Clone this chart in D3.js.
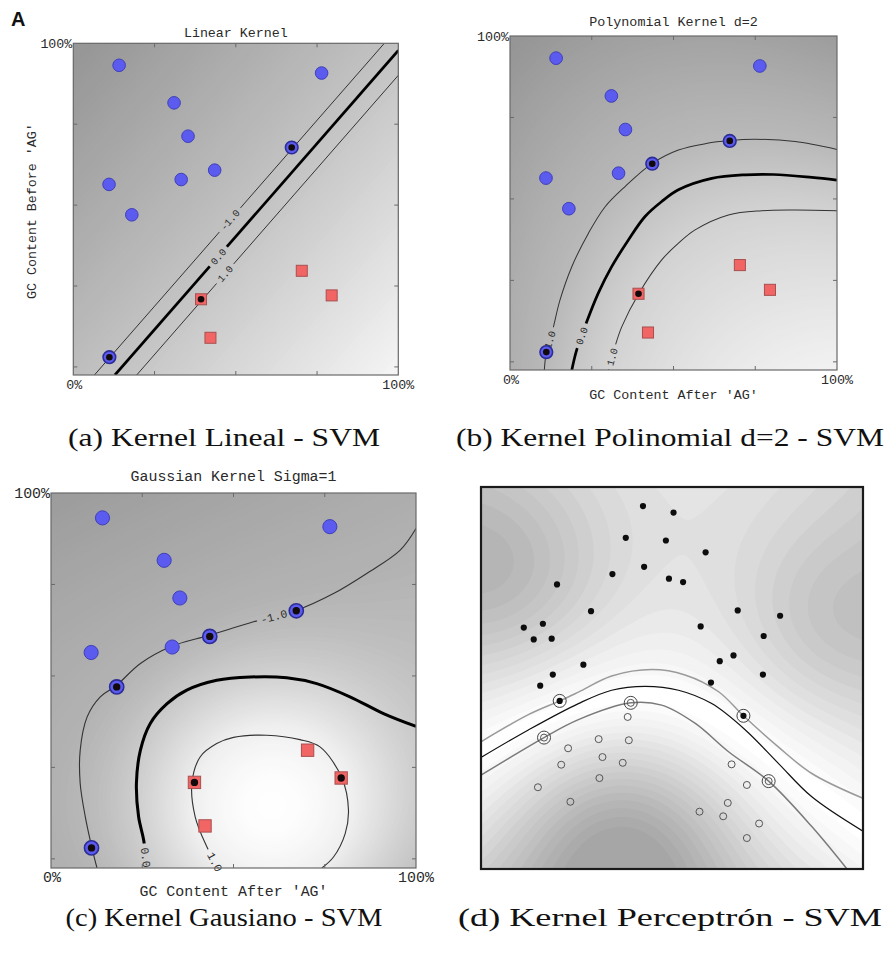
<!DOCTYPE html>
<html>
<head>
<meta charset="utf-8">
<script src="https://cdn.jsdelivr.net/npm/d3@7"></script>
<style>
  body { margin: 0; background: #fff; }
  svg { display: block; }
  .mono { font-family: "Liberation Mono", "DejaVu Sans Mono", monospace; fill: #2a2a2a; }
  .cap { font-family: "Liberation Serif", "DejaVu Serif", serif; fill: #111; }
</style>
</head>
<body>
<script>
// ---------- data (fractions of the axis range) ----------

// training set shared by panels a-c
const blueCircles = [[0.141,0.932],[0.764,0.908],[0.310,0.816],[0.353,0.713],[0.672,0.678],
                     [0.435,0.608],[0.332,0.579],[0.110,0.564],[0.180,0.470],[0.111,0.030]];
const redSquares = [[0.703,0.297],[0.795,0.221],[0.393,0.209],[0.422,0.090]];

// support vectors (indices into the arrays above)
const svBlueA = [4, 9], svRedA = [2];
const svBlueB = [4, 5, 9], svRedB = [2];
const svBlueC = [4, 5, 8, 9], svRedC = [1, 2];

// decision contours: levels -1, 0, +1
const linA_m1 = [[0.065,-0.025],[0.957,1.0]];
const linA_0  = [[0.128,-0.025],[1.0,0.978]];
const linA_p1 = [[0.195,-0.025],[1.0,0.901]];

const polyB_m1 = [[0.105,-0.025],[0.112,0.037],[0.128,0.088],[0.153,0.190],[0.189,0.292],[0.240,0.395],
                  [0.291,0.476],[0.352,0.538],[0.435,0.609],[0.515,0.650],[0.600,0.670],[0.671,0.679],
                  [0.750,0.683],[0.872,0.676],[1.0,0.652]];
const polyB_0  = [[0.189,-0.025],[0.204,0.037],[0.235,0.124],[0.270,0.211],[0.311,0.292],[0.362,0.374],
                  [0.413,0.446],[0.464,0.492],[0.515,0.528],[0.617,0.563],[0.719,0.574],[0.806,0.575],
                  [0.923,0.566],[1.0,0.558]];
const polyB_p1 = [[0.301,-0.025],[0.321,0.047],[0.342,0.108],[0.394,0.210],[0.464,0.313],[0.515,0.364],
                  [0.566,0.405],[0.668,0.451],[0.770,0.464],[0.872,0.466],[1.0,0.464]];

const gaussC_m1 = [[0.126,-0.025],[0.112,0.031],[0.094,0.115],[0.080,0.206],[0.080,0.297],[0.099,0.388],
                   [0.135,0.443],[0.177,0.472],[0.245,0.534],[0.331,0.581],[0.434,0.611],[0.555,0.648],
                   [0.672,0.679],[0.774,0.725],[0.865,0.780],[0.956,0.843],[1.0,0.903]];
const gaussC_0  = [[1.0,0.362],[0.911,0.397],[0.819,0.443],[0.728,0.479],[0.646,0.495],[0.546,0.497],
                   [0.454,0.488],[0.372,0.461],[0.318,0.424],[0.272,0.370],[0.245,0.297],[0.234,0.206],
                   [0.240,0.115],[0.254,0.051],[0.263,-0.025]];
const gaussC_p1 = [[0.742,-0.025],[0.774,0.005],[0.806,0.069],[0.815,0.133],[0.797,0.221],[0.737,0.306],
                   [0.682,0.326],[0.591,0.338],[0.500,0.332],[0.454,0.315],[0.409,0.279],[0.386,0.206],
                   [0.395,0.115],[0.427,0.033],[0.458,-0.025]];

// contour labels: [line index, approx position, text]
const labelsA = [[0,[0.482,0.454],"-1.0"],[1,[0.446,0.341],"0.0"],[2,[0.467,0.288],"1.0"]];
const labelsB = [[0,[0.115,0.060],"-1.0"],[1,[0.219,0.080],"0.0"],[2,[0.310,0.016],"1.0"]];
const labelsC = [[0,[0.610,0.665],"-1.0"],[1,[0.262,0.004],"0.0"],[2,[0.455,-0.005],"1.0"]];

// panel d: kernel perceptron
const blackDots = [[0.424,0.950],[0.504,0.933],[0.379,0.867],[0.484,0.860],[0.588,0.829],[0.427,0.791],
                   [0.344,0.772],[0.492,0.760],[0.529,0.751],[0.199,0.745],[0.288,0.675],[0.672,0.677],
                   [0.783,0.663],[0.112,0.632],[0.162,0.642],[0.575,0.635],[0.138,0.601],[0.185,0.603],
                   [0.740,0.610],[0.268,0.535],[0.661,0.559],[0.625,0.544],[0.188,0.509],[0.738,0.509],
                   [0.155,0.480],[0.602,0.488]];
const blackSV = [[0.206,0.440],[0.687,0.401]];
const openDots = [[0.384,0.398],[0.308,0.340],[0.387,0.337],[0.228,0.316],[0.318,0.293],[0.210,0.273],
                  [0.371,0.278],[0.310,0.238],[0.149,0.214],[0.234,0.176],[0.656,0.274],[0.696,0.220],
                  [0.646,0.173],[0.572,0.150],[0.634,0.138],[0.728,0.119],[0.696,0.081]];
const openSV = [[0.392,0.435],[0.165,0.344],[0.753,0.230]];

const percD_up  = [[0,0.333],[0.124,0.404],[0.206,0.440],[0.255,0.463],[0.342,0.505],[0.447,0.522],
                   [0.534,0.508],[0.622,0.464],[0.687,0.401],[0.779,0.319],[0.866,0.250],[1.0,0.185]];
const percD_mid = [[0,0.292],[0.124,0.364],[0.255,0.433],[0.342,0.468],[0.430,0.478],[0.517,0.468],
                   [0.604,0.433],[0.692,0.364],[0.779,0.276],[0.866,0.189],[1.0,0.099]];
const percD_low = [[0,0.246],[0.080,0.294],[0.165,0.344],[0.255,0.391],[0.392,0.435],[0.473,0.429],
                   [0.561,0.381],[0.648,0.307],[0.753,0.230],[0.866,0.111],[0.958,0]];
// rough |margin| values read from the grey level of panel d's background
const anchorsD = [[0.055,0.764,4.4],[0.908,0.634,3.5],[0.37,0.085,-4.8],[0.45,0.97,2.3],[0,1,3.6],
                  [1,1,2.8],[0,0,-3.2],[1,0,-1.5],[0,0.55,2.0],[1,0.45,2.4],[0.7,0.0,-3.0],[0.12,0.05,-3.6]];

const yTicks = [0, 0.25, 0.5, 0.75];
const xTicks = [0.25, 0.5, 0.75];
const captions = ["(a) Kernel Lineal - SVM", "(b) Kernel Polinomial d=2 - SVM",
                  "(c) Kernel Gausiano - SVM", "(d) Kernel Perceptrón - SVM"];

// ---------- helpers ----------
const W = 889, H = 964;
const svg = d3.select("body").append("svg").attr("width", W).attr("height", H);
const defs = svg.append("defs");

function solve(A, b) {
  const n = b.length, M = A.map((r, i) => [...r, b[i]]);
  for (let c = 0; c < n; c++) {
    let p = c;
    for (let r = c + 1; r < n; r++) if (Math.abs(M[r][c]) > Math.abs(M[p][c])) p = r;
    [M[c], M[p]] = [M[p], M[c]];
    for (let r = 0; r < n; r++) if (r !== c) {
      const f = M[r][c] / M[c][c];
      for (let k = c; k <= n; k++) M[r][k] -= f * M[c][k];
    }
  }
  return M.map((r, i) => r[n] / r[i]);
}

// least squares field through the drawn contours (levels -1, 0, 1)
function fitField(lines, levels, basis, extra) {
  const rows = [], ts = [];
  lines.forEach((pts, k) => pts.forEach(p => { rows.push(basis(p[0], p[1])); ts.push(levels[k]); }));
  (extra || []).forEach(a => { rows.push(basis(a[0], a[1])); ts.push(a[2]); });
  const m = rows[0].length;
  const A = d3.range(m).map(() => new Array(m).fill(0)), b = new Array(m).fill(0);
  rows.forEach((r, i) => {
    for (let a = 0; a < m; a++) {
      b[a] += r[a] * ts[i];
      for (let c = 0; c < m; c++) A[a][c] += r[a] * r[c];
    }
  });
  for (let a = 0; a < m; a++) A[a][a] += 1e-7;
  const w = solve(A, b);
  return (x, y) => d3.sum(basis(x, y), (v, i) => v * w[i]);
}

const gauss = (cx, cy, s) => (x, y) => Math.exp(-((x - cx) ** 2 + (y - cy) ** 2) / (2 * s * s));

function shade(g, x, y, field, color, step, clip) {
  const nx = 110, ny = 110;
  const [x0, x1] = x.domain(), [y0, y1] = y.domain();
  const vals = new Float64Array(nx * ny);
  for (let j = 0; j < ny; j++) for (let i = 0; i < nx; i++)
    vals[i + j * nx] = field(x0 + (i + 0.5) / nx * (x1 - x0), y1 - (j + 0.5) / ny * (y1 - y0));
  const lo = d3.min(vals), hi = d3.max(vals);
  const cs = d3.contours().size([nx, ny]).thresholds(d3.range(Math.ceil(lo / step) * step, hi, step))(vals);
  const w = x.range()[1] - x.range()[0], h = y.range()[0] - y.range()[1];
  const layer = g.append("g").attr("clip-path", `url(#${clip})`)
    .append("g").attr("transform", `translate(${x.range()[0]},${y.range()[1]}) scale(${w / nx},${h / ny})`);
  layer.append("rect").attr("x", -1).attr("y", -1).attr("width", nx + 2).attr("height", ny + 2).attr("fill", color(lo));
  layer.selectAll("path").data(cs).join("path")
    .attr("d", d3.geoPath()).attr("fill", d => color(d.value));
}

function nearestOnLine(pts, at) {
  let best = null;
  for (let i = 0; i < pts.length - 1; i++) {
    const [ax, ay] = pts[i], [bx, by] = pts[i + 1];
    const dx = bx - ax, dy = by - ay;
    let t = ((at[0] - ax) * dx + (at[1] - ay) * dy) / (dx * dx + dy * dy);
    t = Math.max(0, Math.min(1, t));
    const px = ax + t * dx, py = ay + t * dy, d = (px - at[0]) ** 2 + (py - at[1]) ** 2;
    if (!best || d < best.d) best = { d, x: px, y: py, ang: Math.atan2(dy, dx) * 180 / Math.PI };
  }
  return best;
}

// ---------- SVM panels a-c ----------
const svmPanels = [
  { id: "a", left: 73.3, right: 398.3, top: 43.3, bottom: 375, title: "Linear Kernel", titleY: 37,
    lines: [linA_m1, linA_0, linA_p1], labels: labelsA, svBlue: svBlueA, svRed: svRedA,
    basis: (x, y) => [1, x, y], color: d3.scaleLinear().domain([-15, 0, 13]).range(["#979797", "#c4c4c4", "#f4f4f4"]).clamp(true),
    step: 0.3, yLabel: "GC Content Before 'AG'" },
  { id: "b", left: 510, right: 837, top: 36, bottom: 370, title: "Polynomial Kernel d=2", titleY: 26,
    lines: [polyB_m1, polyB_0, polyB_p1], labels: labelsB, svBlue: svBlueB, svRed: svRedB,
    basis: (x, y) => [1, x, y, x * x, x * y, y * y],
    color: d3.scaleLinear().domain([-6, -1, 1, 6]).range(["#969696", "#b9b9b9", "#d2d2d2", "#fbfbfb"]).clamp(true),
    step: 0.08, xLabel: "GC Content After 'AG'", xLabelY: 399 },
  { id: "c", left: 51, right: 416, top: 493, bottom: 868, title: "Gaussian Kernel Sigma=1", titleY: 481,
    lines: [gaussC_m1, gaussC_0, gaussC_p1], labels: labelsC, svBlue: svBlueC, svRed: svRedC,
    basis: (x, y) => [1, x, y, x * x, x * y, y * y, gauss(0.6, 0.13, 0.25)(x, y)],
    color: d3.scaleLinear().domain([-3, -1, 0, 1, 2]).range(["#939393", "#b3b3b3", "#d2d2d2", "#efefef", "#ffffff"]).clamp(true),
    step: 0.05, xLabel: "GC Content After 'AG'", xLabelY: 896 }
];

svmPanels.forEach(p => {
  const x = d3.scaleLinear().domain([0, 1]).range([p.left, p.right]);
  const y = d3.scaleLinear().domain([-0.025, 1]).range([p.bottom, p.top]);
  const k = (p.right - p.left) / 325;
  const fs = 13.3 * k;
  const g = svg.append("g");
  const clip = "clip-" + p.id;
  defs.append("clipPath").attr("id", clip).append("rect")
    .attr("x", p.left).attr("y", p.top).attr("width", p.right - p.left).attr("height", p.bottom - p.top);

  const field = fitField(p.lines, [-1, 0, 1], p.basis);
  shade(g, x, y, field, p.color, p.step, clip);

  // contour lines, cut where the labels sit
  const toPx = d => [x(d[0]), y(d[1])];
  const lfs = 10 * k;
  const labs = p.labels.map(([li, at, text]) => ({ text, ...nearestOnLine(p.lines[li].map(toPx), toPx(at)) }));
  const maskId = "mask-" + p.id;
  const mask = defs.append("mask").attr("id", maskId).attr("maskUnits", "userSpaceOnUse")
    .attr("x", 0).attr("y", 0).attr("width", W).attr("height", H);
  mask.append("rect").attr("width", W).attr("height", H).attr("fill", "#fff");
  mask.selectAll("rect.hole").data(labs).join("rect")
    .attr("x", d => -(d.text.length * lfs * 0.6 + 8) / 2).attr("y", -lfs * 0.6)
    .attr("width", d => d.text.length * lfs * 0.6 + 8).attr("height", lfs * 1.2)
    .attr("transform", d => `translate(${d.x},${d.y}) rotate(${d.ang})`).attr("fill", "#000");

  const lineGen = d3.line().x(d => x(d[0])).y(d => y(d[1])).curve(d3.curveCatmullRom.alpha(0.5));
  g.append("g").attr("clip-path", `url(#${clip})`).append("g").attr("mask", `url(#${maskId})`)
    .selectAll("path").data(p.lines).join("path")
    .attr("d", lineGen).attr("fill", "none")
    .attr("stroke", (d, i) => i === 1 ? "#000" : "#333")
    .attr("stroke-width", (d, i) => (i === 1 ? 2.7 : 1.0) * k);

  g.selectAll("text.clab").data(labs).join("text").attr("class", "mono")
    .attr("transform", d => `translate(${d.x},${d.y}) rotate(${d.ang})`)
    .attr("text-anchor", "middle").attr("dy", "0.35em").attr("font-size", lfs).text(d => d.text);

  // frame and ticks
  g.append("rect").attr("x", p.left).attr("y", p.top).attr("width", p.right - p.left).attr("height", p.bottom - p.top)
    .attr("fill", "none").attr("stroke", "#6a6a6a").attr("stroke-width", 1.2);
  const tl = 4;
  g.selectAll("line.yt").data(yTicks.flatMap(t => [[p.left, y(t), tl], [p.right, y(t), -tl]])).join("line")
    .attr("x1", d => d[0]).attr("x2", d => d[0] + d[2]).attr("y1", d => d[1]).attr("y2", d => d[1])
    .attr("stroke", "#6a6a6a");
  g.selectAll("line.xt").data(xTicks.flatMap(t => [[x(t), p.top, tl], [x(t), p.bottom, -tl]])).join("line")
    .attr("x1", d => d[0]).attr("x2", d => d[0]).attr("y1", d => d[1]).attr("y2", d => d[1] + d[2])
    .attr("stroke", "#6a6a6a");

  // tick labels, title, axis labels
  g.append("text").attr("class", "mono").attr("x", p.left - 1).attr("y", p.top + 5)
    .attr("text-anchor", "end").attr("font-size", fs).text("100%");
  g.append("text").attr("class", "mono").attr("x", p.left + 1).attr("y", p.bottom + 14)
    .attr("text-anchor", "middle").attr("font-size", fs).text("0%");
  g.append("text").attr("class", "mono").attr("x", p.right).attr("y", p.bottom + 14)
    .attr("text-anchor", "middle").attr("font-size", fs).text("100%");
  g.append("text").attr("class", "mono").attr("x", (p.left + p.right) / 2).attr("y", p.titleY)
    .attr("text-anchor", "middle").attr("font-size", fs).text(p.title);
  if (p.yLabel) g.append("text").attr("class", "mono")
    .attr("transform", `translate(${p.left - 37},${(p.top + p.bottom) / 2 + 2}) rotate(-90)`)
    .attr("text-anchor", "middle").attr("font-size", fs).text(p.yLabel);
  if (p.xLabel) g.append("text").attr("class", "mono").attr("x", (p.left + p.right) / 2).attr("y", p.xLabelY)
    .attr("text-anchor", "middle").attr("font-size", fs).text(p.xLabel);

  // points
  const r = 6.3 * k, s = 11 * k;
  g.selectAll("circle.blue").data(blueCircles).join("circle")
    .attr("cx", d => x(d[0])).attr("cy", d => y(d[1])).attr("r", r)
    .attr("fill", "#5b5bef").attr("stroke", (d, i) => p.svBlue.includes(i) ? "#2c2c96" : "#4040b8")
    .attr("stroke-width", (d, i) => p.svBlue.includes(i) ? 1.6 : 1);
  g.selectAll("rect.red").data(redSquares).join("rect")
    .attr("x", d => x(d[0]) - s / 2).attr("y", d => y(d[1]) - s / 2).attr("width", s).attr("height", s)
    .attr("fill", "#f26565").attr("stroke", "#a85050").attr("stroke-width", 1);
  const sv = p.svBlue.map(i => blueCircles[i]).concat(p.svRed.map(i => redSquares[i]));
  g.selectAll("circle.sv").data(sv).join("circle")
    .attr("cx", d => x(d[0])).attr("cy", d => y(d[1])).attr("r", 3.3 * k).attr("fill", "#120a0a");
});

svg.append("text").attr("x", 11).attr("y", 26).attr("font-family", "Liberation Sans, Arial, sans-serif")
  .attr("font-weight", "bold").attr("font-size", 20).attr("fill", "#111").text("A");

// ---------- panel d ----------
(function () {
  const p = { left: 481, right: 863, top: 487, bottom: 869 };
  const x = d3.scaleLinear().domain([0, 1]).range([p.left, p.right]);
  const y = d3.scaleLinear().domain([0, 1]).range([p.bottom, p.top]);
  const g = svg.append("g");
  defs.append("clipPath").attr("id", "clip-d").append("rect")
    .attr("x", p.left).attr("y", p.top).attr("width", p.right - p.left).attr("height", p.bottom - p.top);

  const G1 = gauss(0.055, 0.764, 0.2), G2 = gauss(0.908, 0.634, 0.18), G3 = gauss(0.37, 0.085, 0.22);
  const f = fitField([percD_low, percD_mid, percD_up], [-1, 0, 1],
    (a, b) => [1, a, b, a * a, a * b, b * b, a * a * a, G1(a, b), G2(a, b), G3(a, b)], anchorsD);
  const color = d3.scaleLinear().domain([0, 1, 5]).range(["#ffffff", "#f1f1f1", "#a6a6a6"]).clamp(true);
  shade(g, x, y, (a, b) => Math.abs(f(a, b)), color, 0.28, "clip-d");

  const lineGen = d3.line().x(d => x(d[0])).y(d => y(d[1])).curve(d3.curveCatmullRom.alpha(0.5));
  g.append("g").attr("clip-path", "url(#clip-d)").selectAll("path")
    .data([percD_up, percD_low, percD_mid]).join("path")
    .attr("d", lineGen).attr("fill", "none")
    .attr("stroke", (d, i) => ["#9a9a9a", "#7a7a7a", "#111"][i])
    .attr("stroke-width", (d, i) => [1.5, 1.5, 1.2][i]);

  g.selectAll("circle.bd").data(blackDots.concat(blackSV)).join("circle")
    .attr("cx", d => x(d[0])).attr("cy", d => y(d[1])).attr("r", 3.1).attr("fill", "#0d0d0d");
  g.selectAll("circle.od").data(openDots.concat(openSV)).join("circle")
    .attr("cx", d => x(d[0])).attr("cy", d => y(d[1])).attr("r", 3.5)
    .attr("fill", "none").attr("stroke", "#555").attr("stroke-width", 1);
  g.selectAll("circle.ring").data(blackSV.concat(openSV)).join("circle")
    .attr("cx", d => x(d[0])).attr("cy", d => y(d[1])).attr("r", 6.5)
    .attr("fill", "none").attr("stroke", "#444").attr("stroke-width", 1);

  g.append("rect").attr("x", p.left).attr("y", p.top).attr("width", p.right - p.left).attr("height", p.bottom - p.top)
    .attr("fill", "none").attr("stroke", "#1a1a1a").attr("stroke-width", 2.2);
})();

// ---------- captions ----------
const capPos = [[224, 446, 312], [670, 446, 428], [224, 926, 317], [670, 926, 424]];
svg.selectAll("text.caption").data(captions).join("text").attr("class", "cap")
  .attr("x", (d, i) => capPos[i][0]).attr("y", (d, i) => capPos[i][1])
  .attr("text-anchor", "middle").attr("font-size", 26)
  .attr("textLength", (d, i) => capPos[i][2]).attr("lengthAdjust", "spacingAndGlyphs")
  .text(d => d);
</script>
</body>
</html>
